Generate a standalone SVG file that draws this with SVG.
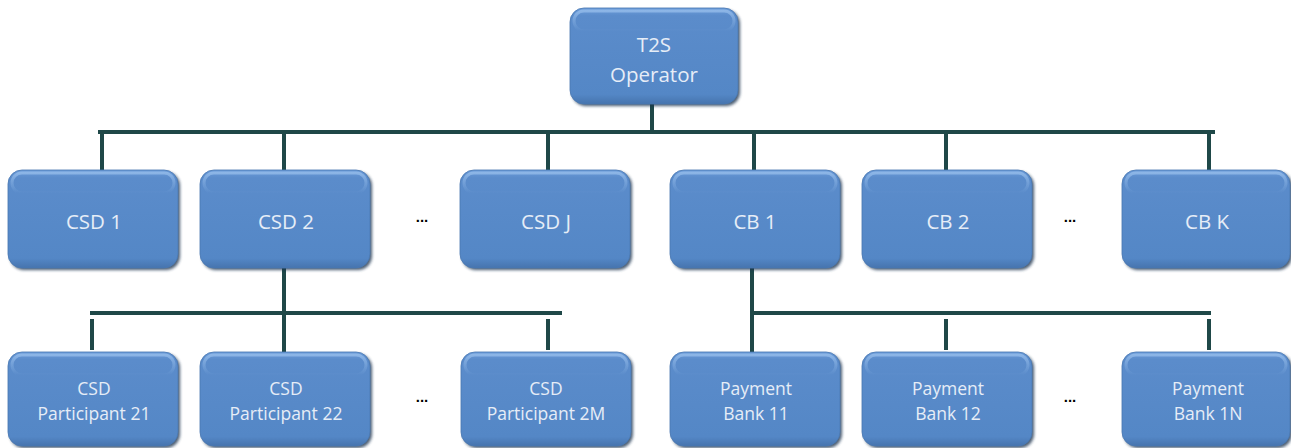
<svg xmlns="http://www.w3.org/2000/svg" width="1291" height="448" viewBox="0 0 1291 448">
<defs>
<linearGradient id="fillG" x1="0" y1="0" x2="0" y2="1">
<stop offset="0" stop-color="#6D9DDA"/>
<stop offset="0.08" stop-color="#5B8CCB"/>
<stop offset="0.9" stop-color="#5487C6"/>
<stop offset="1" stop-color="#4674AE"/>
</linearGradient>
<linearGradient id="hiG" x1="0" y1="0" x2="0" y2="1">
<stop offset="0" stop-color="#9CC2EE" stop-opacity="0.7"/>
<stop offset="1" stop-color="#9CC2EE" stop-opacity="0"/>
</linearGradient>
<filter id="sh" x="-10%" y="-10%" width="120%" height="125%">
<feGaussianBlur stdDeviation="1.5"/>
</filter>
</defs>
<style>
.sh{fill:#1E3550;opacity:0.8;filter:url(#sh)}
.bx{fill:url(#fillG);stroke:#4A78B2;stroke-width:0.8}
.hi{fill:none;stroke:url(#hiG);stroke-width:3}
.t{font-family:"Open Sans","DejaVu Sans",sans-serif;fill:#E6EDF7;text-anchor:middle}
.t1{font-size:20.5px}
.t2{font-size:17.5px}
.dots{font-family:"Liberation Sans",Arial,sans-serif;font-weight:bold;font-size:15px;fill:#000;text-anchor:middle}
.ln{stroke:#1F4848;stroke-width:4;fill:none;stroke-linecap:square}
.stub{stroke:#1F4848;stroke-width:4;fill:none;stroke-linecap:butt}
</style>
<rect width="1291" height="448" fill="#FFFFFF"/>
<g id="connectors">
<path class="ln" d="M652 104V132M100 132H1213M102 132V170M284 132V170M548 132V170M754 132V170M946 132V170M1209 132V170"/>
<path class="ln" d="M284 268V352M92 313H560M752 268V352M752 313H1209"/>
<path class="stub" d="M92 319V350M548 319V350M946 319V350M1209 319V350"/>
</g>
<g id="t2s-operator">
<rect class="sh" x="572" y="10" width="168" height="96" rx="14"/>
<rect class="bx" x="570" y="8" width="168" height="96" rx="14"/>
<rect class="hi" x="574" y="11" width="160" height="20" rx="10"/>
<text class="t t1" x="654" y="52">T2S</text>
<text class="t t1" x="654" y="82">Operator</text>
</g>
<g id="csd-1">
<rect class="sh" x="10" y="172" width="170" height="98" rx="14"/>
<rect class="bx" x="8" y="170" width="170" height="98" rx="14"/>
<rect class="hi" x="12" y="173" width="162" height="20" rx="10"/>
<text class="t t1" x="94" y="229">CSD 1</text>
</g>
<g id="csd-2">
<rect class="sh" x="202" y="172" width="170" height="98" rx="14"/>
<rect class="bx" x="200" y="170" width="170" height="98" rx="14"/>
<rect class="hi" x="204" y="173" width="162" height="20" rx="10"/>
<text class="t t1" x="286" y="229">CSD 2</text>
</g>
<text class="dots" x="422" y="222">...</text>
<g id="csd-j">
<rect class="sh" x="462" y="172" width="170" height="98" rx="14"/>
<rect class="bx" x="460" y="170" width="170" height="98" rx="14"/>
<rect class="hi" x="464" y="173" width="162" height="20" rx="10"/>
<text class="t t1" x="546" y="229">CSD J</text>
</g>
<g id="cb-1">
<rect class="sh" x="672" y="172" width="170" height="98" rx="14"/>
<rect class="bx" x="670" y="170" width="170" height="98" rx="14"/>
<rect class="hi" x="674" y="173" width="162" height="20" rx="10"/>
<text class="t t1" x="755" y="229">CB 1</text>
</g>
<g id="cb-2">
<rect class="sh" x="864" y="172" width="170" height="98" rx="14"/>
<rect class="bx" x="862" y="170" width="170" height="98" rx="14"/>
<rect class="hi" x="866" y="173" width="162" height="20" rx="10"/>
<text class="t t1" x="948" y="229">CB 2</text>
</g>
<text class="dots" x="1070" y="222">...</text>
<g id="cb-k">
<rect class="sh" x="1124" y="172" width="168" height="98" rx="14"/>
<rect class="bx" x="1122" y="170" width="168" height="98" rx="14"/>
<rect class="hi" x="1126" y="173" width="160" height="20" rx="10"/>
<text class="t t1" x="1207" y="229">CB K</text>
</g>
<g id="csd-participant-21">
<rect class="sh" x="10" y="354" width="170" height="94" rx="14"/>
<rect class="bx" x="8" y="352" width="170" height="94" rx="14"/>
<rect class="hi" x="12" y="355" width="162" height="20" rx="10"/>
<text class="t t2" x="94" y="395">CSD</text>
<text class="t t2" x="94" y="420">Participant 21</text>
</g>
<g id="csd-participant-22">
<rect class="sh" x="202" y="354" width="170" height="94" rx="14"/>
<rect class="bx" x="200" y="352" width="170" height="94" rx="14"/>
<rect class="hi" x="204" y="355" width="162" height="20" rx="10"/>
<text class="t t2" x="286" y="395">CSD</text>
<text class="t t2" x="286" y="420">Participant 22</text>
</g>
<text class="dots" x="422" y="402">...</text>
<g id="csd-participant-2m">
<rect class="sh" x="463" y="354" width="170" height="94" rx="14"/>
<rect class="bx" x="461" y="352" width="170" height="94" rx="14"/>
<rect class="hi" x="465" y="355" width="162" height="20" rx="10"/>
<text class="t t2" x="546" y="395">CSD</text>
<text class="t t2" x="546" y="420">Participant 2M</text>
</g>
<g id="payment-bank-11">
<rect class="sh" x="672" y="354" width="170" height="94" rx="14"/>
<rect class="bx" x="670" y="352" width="170" height="94" rx="14"/>
<rect class="hi" x="674" y="355" width="162" height="20" rx="10"/>
<text class="t t2" x="756" y="395">Payment</text>
<text class="t t2" x="756" y="420">Bank 11</text>
</g>
<g id="payment-bank-12">
<rect class="sh" x="864" y="354" width="170" height="94" rx="14"/>
<rect class="bx" x="862" y="352" width="170" height="94" rx="14"/>
<rect class="hi" x="866" y="355" width="162" height="20" rx="10"/>
<text class="t t2" x="948" y="395">Payment</text>
<text class="t t2" x="948" y="420">Bank 12</text>
</g>
<text class="dots" x="1070" y="402">...</text>
<g id="payment-bank-1n">
<rect class="sh" x="1124" y="354" width="168" height="94" rx="14"/>
<rect class="bx" x="1122" y="352" width="168" height="94" rx="14"/>
<rect class="hi" x="1126" y="355" width="160" height="20" rx="10"/>
<text class="t t2" x="1208" y="395">Payment</text>
<text class="t t2" x="1208" y="420">Bank 1N</text>
</g>
</svg>
